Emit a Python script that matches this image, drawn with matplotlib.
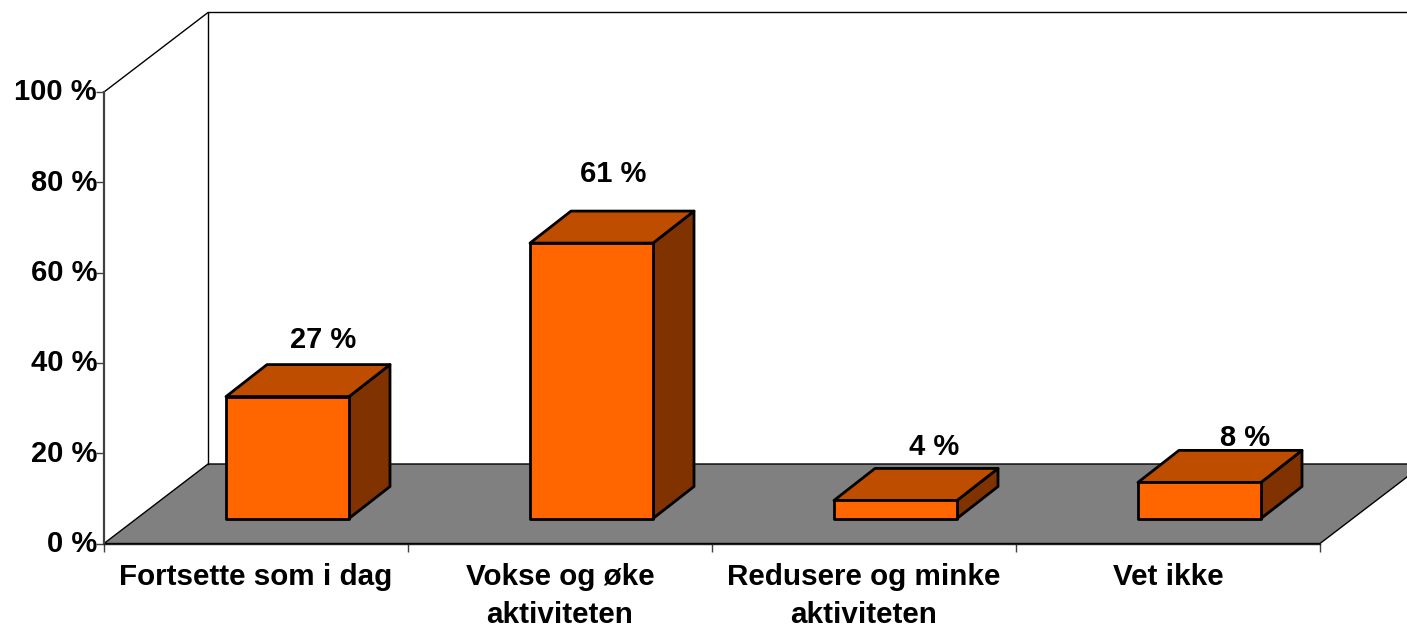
import numpy as np
import matplotlib
matplotlib.use('Agg')
from matplotlib import pyplot as plt
from matplotlib.patches import Polygon
from matplotlib.transforms import ScaledTranslation

categories = ['Fortsette som i dag', 'Vokse og øke\naktiviteten', 'Redusere og minke\naktiviteten', 'Vet ikke']
values = [27, 61, 4, 8]
value_labels = ['27 %', '61 %', '4 %', '8 %']
y_ticks = [0, 20, 40, 60, 80, 100]
y_tick_labels = ['0 %', '20 %', '40 %', '60 %', '80 %', '100 %']
# where the value labels sit relative to the back top corner of each bar, px
label_dx = [36, 22, 39, 46]
label_dy = [25, 37, 21, 12]

plt.rcParams['font.family'] = ['Liberation Sans', 'DejaVu Sans']
plt.rcParams['font.weight'] = 'bold'

W, H = 1407, 626
fig = plt.figure(figsize=(W / 100, H / 100), dpi=100)
ax = fig.add_axes([104 / W, (H - 543.5) / H, 1216 / W, 451.5 / H])
ax.set_xlim(0, 4)
ax.set_ylim(0, 100)

# depth of the whole chart box and of one bar, in data units
depth_x = 104 / 304
depth_y = 79.5 / 4.515
bar_dx = 41 / 304
bar_dy = 32 / 4.515
bar_w = 123 / 304
front_x = 31.5 / 304
front_y = 25 / 4.515

GRAY = '#808080'
FRONT = '#FF6600'
TOP = '#BF4D00'
SIDE = '#803300'

# floor and walls
ax.add_patch(Polygon([(0, 0), (4, 0), (4 + depth_x, depth_y), (depth_x, depth_y)],
                     closed=True, fc=GRAY, ec='black', lw=1, clip_on=False, zorder=1))
ax.plot([0, depth_x, 4.5], [100, 100 + depth_y, 100 + depth_y], color='black', lw=1, clip_on=False, zorder=1)
ax.plot([depth_x, depth_x], [depth_y, 100 + depth_y], color='black', lw=1, clip_on=False, zorder=1)

for i, v in enumerate(values):
    x0 = i + 0.5 + front_x - bar_w / 2
    x1 = x0 + bar_w
    y0 = front_y
    y1 = front_y + v
    ax.add_patch(Polygon([(x1, y0), (x1 + bar_dx, y0 + bar_dy), (x1 + bar_dx, y1 + bar_dy), (x1, y1)],
                         closed=True, fc=SIDE, ec='black', lw=2, joinstyle='round', clip_on=False, zorder=3))
    ax.add_patch(Polygon([(x0, y1), (x1, y1), (x1 + bar_dx, y1 + bar_dy), (x0 + bar_dx, y1 + bar_dy)],
                         closed=True, fc=TOP, ec='black', lw=2, joinstyle='round', clip_on=False, zorder=3))
    ax.add_patch(Polygon([(x0, y0), (x1, y0), (x1, y1), (x0, y1)],
                         closed=True, fc=FRONT, ec='black', lw=2, joinstyle='round', clip_on=False, zorder=4))
    ax.annotate(value_labels[i], xy=(i + 0.5 + front_x, y1 + bar_dy),
                xytext=(label_dx[i] * 0.72, label_dy[i] * 0.72), textcoords='offset points',
                ha='center', va='center', fontsize=21, fontweight='bold', color='black', zorder=5)

for s in ['top', 'right']:
    ax.spines[s].set_visible(False)
ax.spines['left'].set_color('#404040')
ax.spines['left'].set_linewidth(1.6)
ax.spines['bottom'].set_color('#202020')
ax.spines['bottom'].set_linewidth(1)
ax.patch.set_visible(False)

ax.set_yticks(y_ticks)
ax.set_yticklabels(y_tick_labels, fontsize=21, fontweight='bold')
ax.tick_params(axis='y', length=6, width=1, color='#404040', pad=-1)
# labels sit a little above their ticks in the reference
nudge = ScaledTranslation(0, 2.5 / 100, fig.dpi_scale_trans)
for lab in ax.get_yticklabels():
    lab.set_transform(lab.get_transform() + nudge)

ax.set_xticks(np.arange(5))
ax.set_xticklabels([])
ax.tick_params(axis='x', which='major', length=6, width=1, color='#404040')
ax.set_xticks(np.arange(4) + 0.5, minor=True)
ax.set_xticklabels(categories, minor=True, fontsize=21.3, fontweight='bold', linespacing=1.45)
ax.tick_params(axis='x', which='minor', length=0, pad=14)

fig.savefig('out.png', dpi=100)
